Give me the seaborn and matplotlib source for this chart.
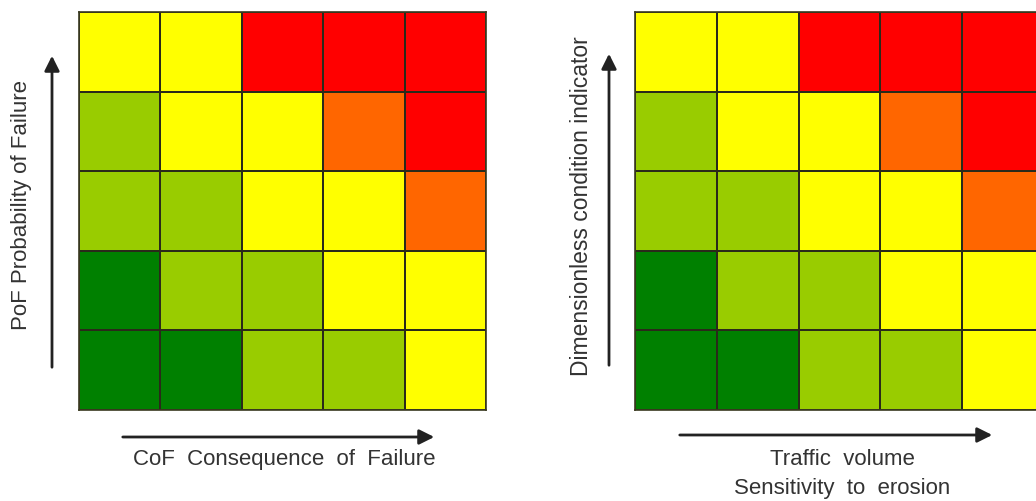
import matplotlib
matplotlib.use("Agg")
import matplotlib.pyplot as plt
from matplotlib.colors import ListedColormap
import numpy as np
import seaborn as sns

# risk level per cell, rows from top (high) to bottom (low)
# 0 dark green, 1 light green, 2 yellow, 3 orange, 4 red
pof_levels = [
    [2, 2, 4, 4, 4],
    [1, 2, 2, 3, 4],
    [1, 1, 2, 2, 3],
    [0, 1, 1, 2, 2],
    [0, 0, 1, 1, 2],
]
dci_levels = [
    [2, 2, 4, 4, 4],
    [1, 2, 2, 3, 4],
    [1, 1, 2, 2, 3],
    [0, 1, 1, 2, 2],
    [0, 0, 1, 1, 2],
]
level_colors = ["#008000", "#99CC00", "#FFFF00", "#FF6600", "#FF0000"]

left_xlabel = "CoF  Consequence  of  Failure"
left_ylabel = "PoF Probability of Failure"
right_xlabel = "Traffic  volume\nSensitivity  to  erosion"
right_ylabel = "Dimensionless condition indicator"

sns.set_style("white")
plt.rcParams["font.family"] = ["Liberation Sans", "DejaVu Sans"]

W, H = 1036, 501
fig = plt.figure(figsize=(W / 100, H / 100), dpi=100)
cmap = ListedColormap(level_colors)


def px_axes(x0, y0, x1, y1):
    return fig.add_axes([x0 / W, 1 - y1 / H, (x1 - x0) / W, (y1 - y0) / H])


def draw_matrix(ax, levels):
    sns.heatmap(np.array(levels), ax=ax, cmap=cmap, vmin=-0.5, vmax=4.5,
                cbar=False, linewidths=1.2, linecolor="#2a2a1a",
                xticklabels=False, yticklabels=False, square=False)
    for s in ax.spines.values():
        s.set_visible(True)
        s.set_color("#3a3a20")
        s.set_linewidth(1.2)


def arrow(x0, y0, x1, y1):
    fig.add_artist(matplotlib.patches.FancyArrowPatch(
        (x0 / W, 1 - y0 / H), (x1 / W, 1 - y1 / H), transform=fig.transFigure,
        arrowstyle="-|>,head_length=6,head_width=3", color="#222222", lw=2.0,
        mutation_scale=1.5))


ax1 = px_axes(79, 12, 486, 410)
draw_matrix(ax1, pof_levels)
ax2 = px_axes(635, 12, 1044, 410)
draw_matrix(ax2, dci_levels)

txt = dict(color="#333333", fontsize=16)
arrow(52, 370, 52, 53)
arrow(120, 437, 437, 437)
fig.text(22 / W, 1 - 205 / H, left_ylabel, rotation=90, ha="center", va="center", **txt)
fig.text(284 / W, 1 - 460 / H, left_xlabel, ha="center", va="center", **txt)

arrow(609, 368, 609, 51)
arrow(677, 435, 995, 435)
fig.text(581 / W, 1 - 206 / H, right_ylabel, rotation=90, ha="center", va="center",
         color="#333333", fontsize=16.5)
fig.text(842 / W, 1 - 474 / H, right_xlabel, ha="center", va="center",
         linespacing=1.45, **txt)

fig.savefig("out.png", dpi=100, facecolor="white")
